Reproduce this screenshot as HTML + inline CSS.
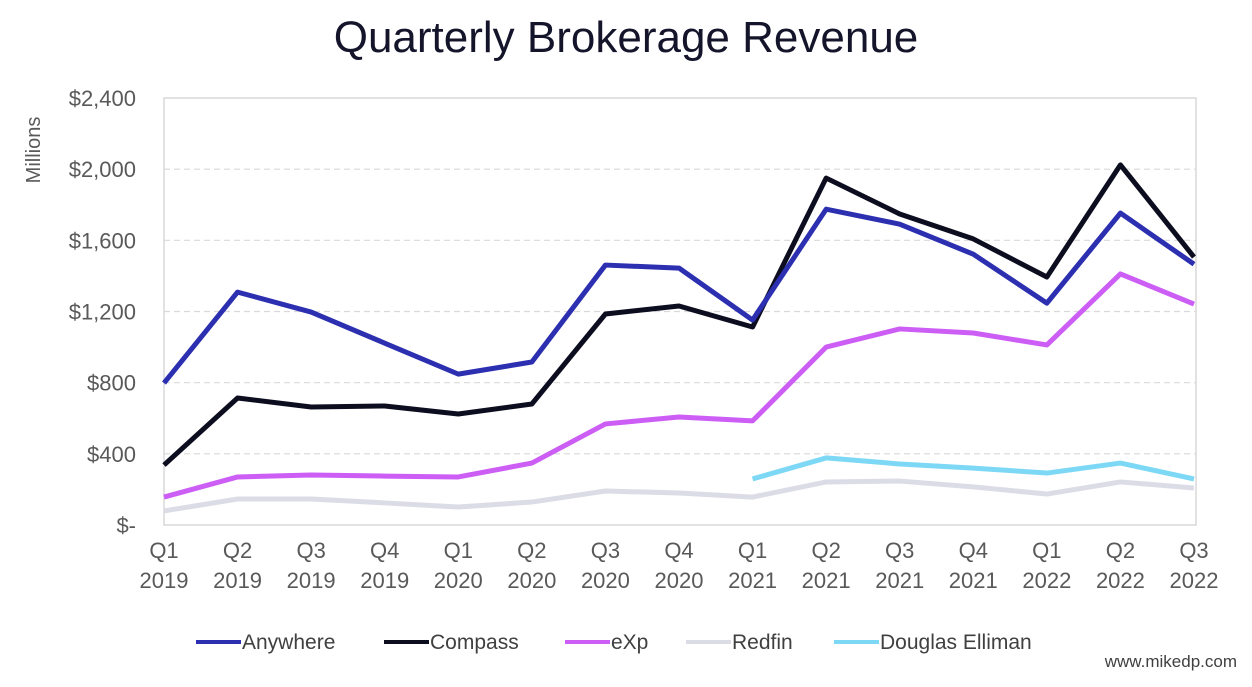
<!DOCTYPE html>
<html><head><meta charset="utf-8"><style>
body{margin:0;background:#fff;font-family:"Liberation Sans",sans-serif;}
svg text{font-family:"Liberation Sans",sans-serif;}
</style></head><body>
<svg id="chart" width="1252" height="682" xmlns="http://www.w3.org/2000/svg">
<text x="626" y="52" text-anchor="middle" font-size="44" fill="#14142b">Quarterly Brokerage Revenue</text>
<text transform="translate(40,150) rotate(-90)" text-anchor="middle" font-size="20" fill="#595959">Millions</text>
<rect x="164" y="98" width="1032" height="427" fill="none" stroke="#d9d9d9" stroke-width="1.5"/>
<g id="grid"></g><g id="yticks"></g><g id="xticks"></g><g id="series"></g>
<g font-size="21" fill="#404040">
<g><line x1="196" y1="642" x2="241" y2="642" stroke="#2b2fb0" stroke-width="4"/><text x="242" y="649">Anywhere</text></g>
<g><line x1="384" y1="642" x2="429" y2="642" stroke="#0d0d20" stroke-width="4"/><text x="430" y="649">Compass</text></g>
<g><line x1="565" y1="642" x2="610" y2="642" stroke="#cc5ef5" stroke-width="4"/><text x="611" y="649">eXp</text></g>
<g><line x1="686" y1="642" x2="731" y2="642" stroke="#dcdce6" stroke-width="4"/><text x="732" y="649">Redfin</text></g>
<g><line x1="834" y1="642" x2="879" y2="642" stroke="#7dd8f5" stroke-width="4"/><text x="880" y="649">Douglas Elliman</text></g>
</g>
<text x="1237" y="667" text-anchor="end" font-size="17" fill="#404040">www.mikedp.com</text>
</svg>
<script>
const categories=["Q1 2019","Q2 2019","Q3 2019","Q4 2019","Q1 2020","Q2 2020","Q3 2020","Q4 2020","Q1 2021","Q2 2021","Q3 2021","Q4 2021","Q1 2022","Q2 2022","Q3 2022"];
const yTicks=[0,400,800,1200,1600,2000,2400];
const yTickLabels=["$-","$400","$800","$1,200","$1,600","$2,000","$2,400"];
const anywhere=[798,1309,1197,1022,848,916,1461,1444,1152,1775,1691,1522,1247,1753,1466];
const compass=[337,714,663,669,624,680,1186,1231,1113,1950,1748,1608,1394,2024,1506];
const exp=[157,270,281,275,270,348,568,607,585,1000,1102,1079,1012,1411,1242];
const redfin=[79,146,146,124,101,129,191,180,157,242,247,214,174,242,208];
const douglasElliman=[null,null,null,null,null,null,null,null,259,377,343,320,292,348,259];
const NS="http://www.w3.org/2000/svg";
const x0=164,x1=1194,yTop=98,yBot=525,yMax=2400;
const xs=i=>x0+(x1-x0)*i/(categories.length-1);
const ys=v=>yBot-(yBot-yTop)*v/yMax;
function mk(t,a,p){const e=document.createElementNS(NS,t);for(const k in a)e.setAttribute(k,a[k]);p.appendChild(e);return e;}
const grid=document.getElementById('grid'),yt=document.getElementById('yticks'),xt=document.getElementById('xticks'),sg=document.getElementById('series');
yTicks.forEach((v,i)=>{
 if(v>0&&v<yMax){const l=mk('line',{x1:x0,x2:1196,y1:ys(v),y2:ys(v),stroke:'#d9d9d9','stroke-dasharray':'6,4','stroke-width':1.2},grid);
 
 }
 const t=mk('text',{x:136,y:ys(v)+8,'text-anchor':'end','font-size':22,fill:'#595959'},yt);
 
 
 t.textContent=yTickLabels[i];
});
categories.forEach((c,i)=>{
 const p=c.split(' ');
 const t=mk('text',{x:xs(i),y:558,'text-anchor':'middle','font-size':22,fill:'#595959'},xt);
 
 
 mk('tspan',{x:xs(i),dy:0},t).textContent=p[0];
 mk('tspan',{x:xs(i),dy:30},t).textContent=p[1];
});
const series=[["redfin",redfin,"#dcdce6"],["douglas-elliman",douglasElliman,"#7dd8f5"],["exp",exp,"#cc5ef5"],["compass",compass,"#0d0d20"],["anywhere",anywhere,"#2b2fb0"]];
series.forEach(([n,d,c])=>{
 let pts=[];d.forEach((v,i)=>{if(v!=null)pts.push(xs(i)+','+ys(v));});
 const pl=mk('polyline',{points:pts.join(' '),fill:'none',stroke:c,'stroke-width':5,'stroke-linejoin':'round'},sg);
 
 
});
</script>
</body></html>
